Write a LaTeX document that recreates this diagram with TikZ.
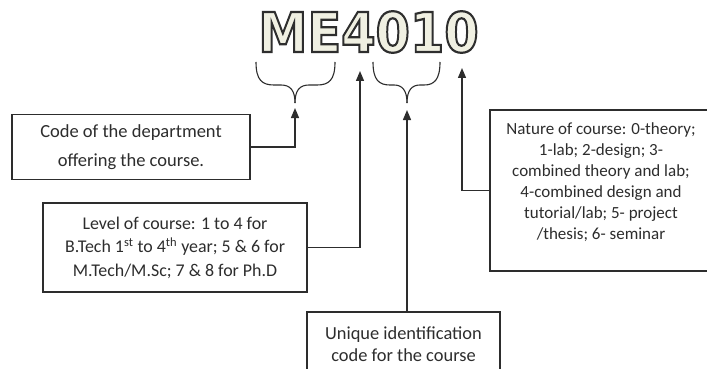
\documentclass[tikz,border=0pt]{standalone}
\usepackage{fontspec}
\setmainfont{Carlito}
\newfontfamily\titlefont{DejaVu Sans}
\usetikzlibrary{arrows.meta}
\definecolor{cream}{RGB}{240,240,226}
\definecolor{ink}{RGB}{45,45,45}
\newcommand{\outlinedtext}[1]{\special{pdf:literal direct 2 Tr 2.2 w 0.18 0.18 0.18 RG}#1\special{pdf:literal direct 0 Tr}}
\begin{document}
\begin{tikzpicture}[x=1pt,y=-1pt,
  box/.style={draw=ink, line width=1.3pt, fill=white, inner sep=0pt, text=ink, align=center},
  rowtext/.style={text=ink, inner sep=0pt, anchor=base, font=\fontsize{17}{21}\selectfont},
  conn/.style={line width=1.3pt, draw=ink},
  arr/.style={conn, -{Triangle[length=10pt,width=8pt]}},
  brace/.style={line width=1.1pt, draw=ink},
  ttl/.style={inner sep=0pt, font=\titlefont\bfseries\fontsize{55}{60}\selectfont}]
\clip (0,0) rectangle (707,369);
\fill[white] (0,0) rectangle (707,369);

% title with outline
\node[ttl, text=cream] (title) at (368.5,32) {\scalebox{0.898}[1]{\outlinedtext{ME4010}}};

% braces
\draw[brace] (256,62) .. controls (256,80) and (262,85) .. (274,85) -- (281,85)
  .. controls (290,85) and (295,90) .. (295,103);
\draw[brace] (335,62) .. controls (335,80) and (329,85) .. (317,85) -- (309,85)
  .. controls (300,85) and (295,90) .. (295,103);
\draw[brace] (373,62) .. controls (373,80) and (379,85) .. (390,85) -- (394,85)
  .. controls (402,85) and (407,90) .. (407,103);
\draw[brace] (440,62) .. controls (440,80) and (434,85) .. (424,85) -- (420,85)
  .. controls (412,85) and (407,90) .. (407,103);

% boxes
\node[box, minimum width=238pt, minimum height=65pt, font=\fontsize{18.5}{29}\selectfont]
  (b1) at (131,147) {Code of the department\\offering the course.};
\node[box, minimum width=264pt, minimum height=89pt, font=\fontsize{17.9}{23.5}\selectfont]
  (b2) at (175,247.5) {Level of course: 1 to 4 for\\B.Tech 1\textsuperscript{st} to 4\textsuperscript{th} year; 5 \& 6 for\\M.Tech/M.Sc; 7 \& 8 for Ph.D};
\node[box, minimum width=193pt, minimum height=64pt, font=\fontsize{18.4}{22}\selectfont]
  (b3) at (403.5,344) {Unique identification\\code for the course};
\node[box, minimum width=220pt, minimum height=161pt] (b4) at (600,190.5) {};
\node[rowtext] (r1) at (601,134) {Nature of course: 0-theory;};
\node[rowtext] (r2) at (601,155) {1-lab; 2-design; 3-};
\node[rowtext] (r3) at (601,176) {combined theory and lab;};
\node[rowtext] (r4) at (601,197) {4-combined design and};
\node[rowtext] (r5) at (601,218) {tutorial/lab; 5- project};
\node[rowtext] (r6) at (601,239) {/thesis; 6- seminar};

% arrow targets
\coordinate (a1) at (295,108);
\coordinate (a2) at (360,71);
\coordinate (a3) at (407,110);
\coordinate (a4) at (462,68);

% connectors
\draw[arr] (b1.east) -| (a1);
\draw[arr] (b2.east) -| (a2);
\draw[arr] (b3.north -| a3) -- (a3);
\draw[arr] (b4.west) -| (a4);
\end{tikzpicture}
\end{document}
